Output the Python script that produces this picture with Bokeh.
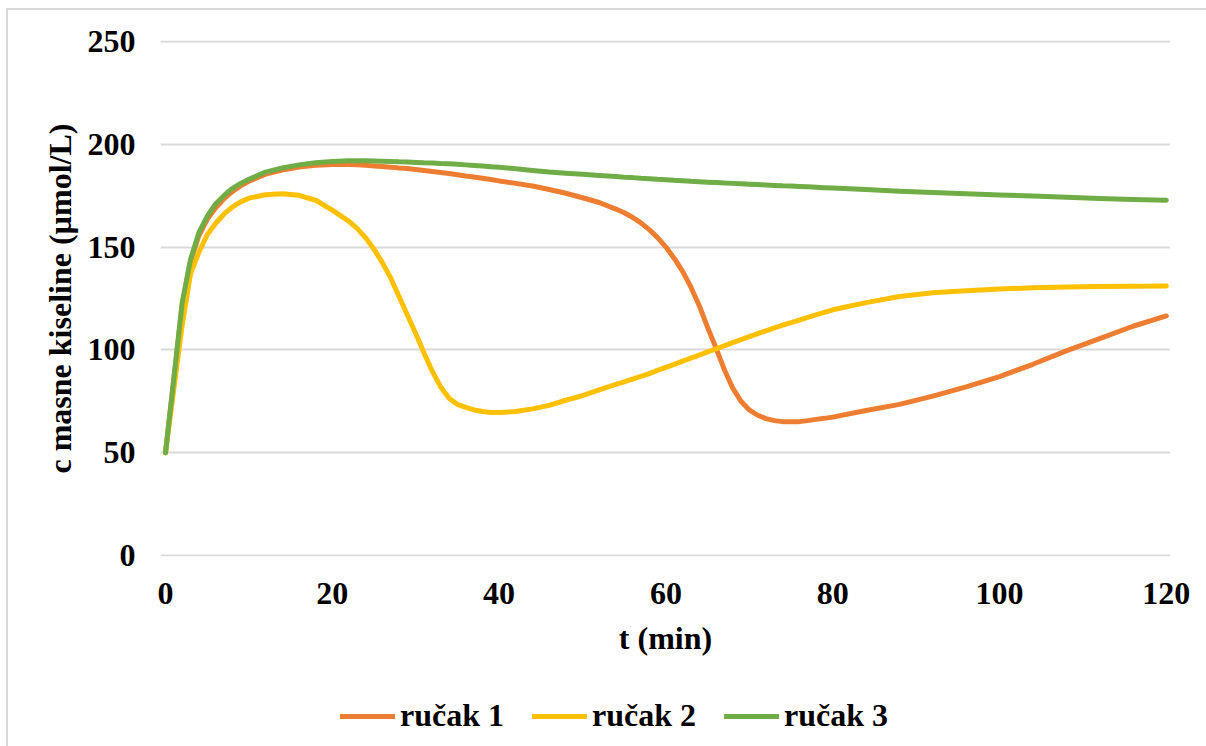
from bokeh.plotting import figure
from bokeh.layouts import column
from bokeh.models import Range1d, Legend, LegendItem, FixedTicker
from bokeh.embed import file_html
from bokeh.resources import INLINE

# ---- data ----
t = [0, 1, 2, 3, 4, 5, 6, 7, 8, 9, 10,
     12, 14, 16, 18, 20, 22,
     23, 24, 25, 26, 27, 28, 29, 30, 31, 32, 33, 34, 35, 36, 37, 38, 39, 40,
     42, 44, 46, 48, 50, 52, 54,
     55, 56, 57, 58, 59, 60, 61, 62, 63, 64, 65, 66, 67, 68, 69, 70, 71, 72, 73,
     74, 75, 76, 77, 78, 79, 80,
     84, 88, 92, 96, 100, 104, 108, 112, 116, 120]

rucak1 = [50, 86, 122, 143, 155.5, 163.5, 169, 173.5, 177, 179.8, 182,
          185.5, 187.5, 189, 189.8, 190.2, 190.2,
          190, 189.8, 189.5, 189.2, 188.9, 188.5, 188.2, 187.8, 187.3, 186.8, 186.3,
          185.8, 185.2, 184.6, 184.1, 183.5, 182.9, 182.2,
          181, 179.7, 178, 176.2, 174, 171.7, 168.5,
          166.7, 164.5, 161.8, 158.5, 154.6, 150, 144.5, 138.2, 130.5, 121.5, 111, 101,
          90.5, 81.5, 75, 70.8, 68.2, 66.6, 65.6, 65.1, 65, 65.1, 65.6, 66.2, 66.7, 67.3,
          70.5, 73.5, 77.5, 82, 87, 93, 99.5, 105.5, 111.5, 116.5]

rucak2 = [50, 81, 112, 137, 147.5, 156, 161.5, 166, 169.5, 172, 173.8,
          175.5, 176, 175.2, 172.8, 168, 162.5,
          159, 154.5, 149, 142.5, 135, 126, 117, 108, 98.5, 89.5, 82, 76.5, 73.5, 72,
          70.8, 70, 69.6, 69.5,
          70, 71.3, 73, 75.5, 77.8, 80.5, 83.2,
          84.5, 85.8, 87.1, 88.5, 90, 91.5, 93, 94.5, 96, 97.5, 99, 100.5, 102, 103.5,
          105, 106.5, 107.9, 109.3, 110.7, 112, 113.3, 114.5, 115.8, 117, 118.3, 119.5,
          123, 126, 127.8, 128.8, 129.6, 130.2, 130.6, 130.8, 131, 131.1]

rucak3 = [50, 86, 123, 144, 157, 165, 171, 175, 178.5, 181, 183,
          186.5, 188.5, 190, 191, 191.7, 192,
          192, 192, 191.9, 191.8, 191.7, 191.5, 191.4, 191.2, 191, 190.9, 190.7, 190.6,
          190.3, 190, 189.7, 189.4, 189.1, 188.8,
          188.1, 187.3, 186.5, 185.9, 185.4, 184.8, 184.3,
          184, 183.8, 183.5, 183.3, 183, 182.8, 182.5, 182.3, 182, 181.8, 181.6, 181.4,
          181.2, 181, 180.8, 180.6, 180.4, 180.2, 180, 179.8, 179.7, 179.5, 179.3, 179.1,
          178.9, 178.7,
          178, 177.2, 176.6, 176, 175.4, 174.8, 174.2, 173.7, 173.2, 172.8]

series_names = ["ručak 1", "ručak 2", "ručak 3"]
series_values = [rucak1, rucak2, rucak3]
colors = ["#ED7D31", "#FFC000", "#70AD47"]

x_ticks = [0, 20, 40, 60, 80, 100, 120]
y_ticks = [0, 50, 100, 150, 200, 250]

FONT = "Liberation Serif"
FS = "32px"
W = 1198

# ---- main chart ----
p = figure(width=W, height=670, output_backend="svg", toolbar_location=None,
           x_range=Range1d(-0.6, 120.5), y_range=Range1d(-0.5, 250.5),
           min_border_left=152, min_border_right=36, min_border_top=30,
           min_border_bottom=124)
p.outline_line_color = None
p.background_fill_color = "white"
p.border_fill_color = "white"

for vals, col in zip(series_values, colors):
    p.line(t, vals, line_color=col, line_width=5, line_cap="round", line_join="round")

p.xgrid.grid_line_color = None
p.ygrid.grid_line_color = "#d9d9d9"
p.ygrid.grid_line_width = 2
p.ygrid.ticker = FixedTicker(ticks=y_ticks)

for ax in (p.xaxis[0], p.yaxis[0]):
    ax.axis_line_color = None
    ax.major_tick_line_color = None
    ax.minor_tick_line_color = None
    ax.major_tick_out = 0
    ax.major_tick_in = 0
    ax.major_label_text_font = FONT
    ax.major_label_text_font_style = "bold"
    ax.major_label_text_font_size = FS
    ax.major_label_text_color = "black"
    ax.axis_label_text_font = FONT
    ax.axis_label_text_font_style = "bold"
    ax.axis_label_text_font_size = FS
    ax.axis_label_text_color = "black"

p.xaxis[0].ticker = FixedTicker(ticks=x_ticks)
p.yaxis[0].ticker = FixedTicker(ticks=y_ticks)
p.xaxis[0].major_label_standoff = 26
p.yaxis[0].major_label_standoff = 25
p.xaxis[0].axis_label = "t (min)"
p.yaxis[0].axis_label = "c masne kiseline (µmol/L)"
p.xaxis[0].axis_label_standoff = 13
p.yaxis[0].axis_label_standoff = 7

# ---- legend strip (same series, drawn outside its visible range; only the legend shows) ----
leg = figure(width=W, height=66, output_backend="svg", toolbar_location=None,
             x_range=Range1d(1000, 1001), y_range=Range1d(1000, 1001),
             x_axis_location=None, y_axis_location=None, min_border=0)
leg.outline_line_color = None
leg.grid.visible = False
leg_renderers = []
for vals, col in zip(series_values, colors):
    leg_renderers.append(leg.line(t, vals, line_color=col, line_width=5, line_cap="round"))

legend = Legend(
    items=[LegendItem(label=n, renderers=[r]) for n, r in zip(series_names, leg_renderers)],
    orientation="horizontal", location=(180, 12),
    border_line_color=None, background_fill_alpha=0,
    label_text_font=FONT, label_text_font_style="bold", label_text_font_size=FS,
    label_text_color="black", glyph_width=55, glyph_height=20,
    label_standoff=5, spacing=28, padding=0, margin=0,
)
leg.add_layout(legend, "center")

layout = column(p, leg, spacing=0,
                styles={"border-left": "2px solid #d9d9d9", "border-top": "2px solid #d9d9d9",
                        "margin-left": "6px", "margin-top": "8px"})

open("out.html", "w").write(file_html(layout, INLINE))
